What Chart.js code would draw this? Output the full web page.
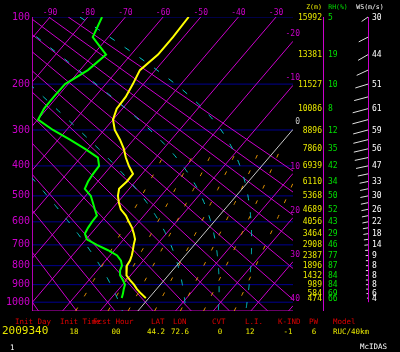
<!DOCTYPE html>
<html>
<head>
<meta charset="utf-8">
<script src="https://cdn.jsdelivr.net/npm/chart.js@4.4.0/dist/chart.umd.min.js"></script>
<style>
  html, body { margin: 0; padding: 0; background: #000; }
  #wrap { width: 400px; height: 352px; }
</style>
</head>
<body>
<div id="wrap"><canvas id="skewT" width="400" height="352"></canvas></div>
<script>
// Skew-T : axe y en p^0.286, axe x en température "penchée".
const K = 0.286;
const SKEW = 18.6;
const Y100 = Math.pow(100, K);
const P_BAS = 1053;
const X_MIN = -94.8, X_MAX = -25.5;
const Y_MAX = Math.pow(P_BAS, K);

//? Profil
const presProfil = [100,125,150,175,200,225,250,275,300,325,350,375,400,425,450,475,500,525,550,575,600,625,650,675,700,725,750,775,800,825,850,875,900,925,950,976];
const tempProfil = [-53.2,-52.8,-52.8,-54.1,-52.8,-51.8,-51.5,-50.0,-47.2,-43.6,-40.5,-38.0,-35.3,-32.4,-32.3,-32.7,-31.4,-29.6,-27.6,-24.8,-22.6,-20.4,-18.6,-17.0,-16.1,-15.1,-14.2,-13.5,-13.2,-12.3,-11.0,-9.1,-7.0,-5.2,-3.1,-0.8];
const rosProfil = [-76.2,-74.1,-66.6,-67.9,-70.8,-70.9,-70.8,-69.9,-63.6,-56.9,-50.8,-45.4,-43.2,-43.0,-42.6,-41.8,-38.6,-36.5,-34.5,-32.5,-32.4,-32.1,-31.6,-29.8,-25.9,-21.7,-18.1,-15.9,-14.5,-13.9,-12.8,-11.0,-9.4,-8.7,-7.9,-7.2];

//? Tableau de droite
const niveaux = [100,150,200,250,300,350,400,450,500,550,600,650,700,750,800,850,900,950,976];
const hauteurs = [15992,13381,11527,10086,8896,7860,6939,6110,5368,4689,4056,3464,2908,2387,1896,1432,989,584,474];
const humidites = [5,19,10,8,12,35,42,34,50,52,43,29,46,77,87,84,84,69,66];
const vitesses = [30,44,51,61,59,56,47,33,30,26,22,18,14,9,8,8,8,6,4];

//? Vent (bâtonnets tous les 25 hPa)
const presVent = [100,125,150,175,200,225,250,275,300,325,350,375,400,425,450,475,500,525,550,575,600,625,650,675,700,725,750,775,800,825,850,875,900,925,950,976];
const vitVent = [30,40,44,48,51,55,61,62,59,58,56,52,47,40,33,31,30,28,26,24,22,20,18,16,14,11,9,8,8,8,8,8,8,7,6,4];
const dirVent = [235,243,240,245,253,255,255,255,255,256,257,258,258,258,258,258,258,258,258,258,258,260,260,262,264,266,268,270,270,270,270,270,270,270,270,270];

//? Lignes de fond
const isothermes = [-90,-80,-70,-60,-50,-40,-30,-20,-10,10,20,30,40];
const adiabSeches = [-30,-20,-10,0,10,20,30,40,50,60,70,80,90];
const adiabHumides = [-7,10.5,19.5,27];
const rapportsMelange = [1,2,3,5,8,12,20];
const isobares = [100,200,300,400,500,600,700,800,900,1000];
const tempTicks = [-90,-80,-70,-60,-50,-40,-30];
const isoLabels = [-20,-10,0,10,20,30,40];

const MAGENTA = "#cc00cc";

const py = (p) => Math.pow(p, K);
const skewX = (t, p) => t - SKEW * (py(p) - Y100);
const pt = (t, p) => ({ x: skewX(t, p), y: py(p) });

// segment coupé au cadre du diagramme (Liang-Barsky, en unités des axes)
const coupe = (a, b) => {
  const dx = b.x - a.x, dy = b.y - a.y;
  let t0 = 0, t1 = 1;
  const pq = [[-dx, a.x - X_MIN], [dx, X_MAX - a.x], [-dy, a.y - Y100], [dy, Y_MAX - a.y]];
  for (const [p, q] of pq) {
    if (p === 0) { if (q < 0) return null; continue; }
    const r = q / p;
    if (p < 0) { if (r > t1) return null; if (r > t0) t0 = r; }
    else { if (r < t0) return null; if (r < t1) t1 = r; }
  }
  return [{ x: a.x + t0 * dx, y: a.y + t0 * dy }, { x: a.x + t1 * dx, y: a.y + t1 * dy }];
};

const ligne = (data, color, width, dash, order) => {
  const d = { data, borderColor: color, borderWidth: width, pointRadius: 0, showLine: true, order };
  if (dash && dash.length) d.borderDash = dash;
  return d;
};

// pseudo-adiabatique
const lapse = (p, T) => {
  const Tc = T - 273.15;
  const es = 6.112 * Math.exp((17.67 * Tc) / (Tc + 243.5));
  const rs = (0.622 * es) / (p - es);
  const Rd = 287.04, Lv = 2.501e6, Cp = 1005.7;
  return (1 / p) * (Rd * T + Lv * rs) / (Cp + (Lv * Lv * rs * 0.622) / (Rd * T * T));
};
const adiabHumide = (t0) => {
  const monte = (pDep, pFin, dp) => {
    let p = pDep, T = t0 + 273.15;
    const out = [{ p, T }];
    while ((dp < 0 && p > pFin) || (dp > 0 && p < pFin)) {
      const k1 = lapse(p, T);
      const k2 = lapse(p + dp, T + k1 * dp);
      T += 0.5 * (k1 + k2) * dp;
      p += dp;
      out.push({ p, T });
    }
    return out;
  };
  const haut = monte(1000, 100, -5).reverse();
  const bas = monte(1000, P_BAS, 5).slice(1);
  return haut.concat(bas).map((o) => pt(o.T - 273.15, o.p)).filter((q) => q.x >= X_MIN - 3 && q.x <= X_MAX + 3);
};
const rapportMelange = (w) => {
  const res = [];
  for (let p = P_BAS; p >= 350; p -= 25) {
    const e = (w * p) / (622 + w);
    const l = Math.log(e / 6.112);
    res.push(pt((243.5 * l) / (17.67 - l), p));
  }
  return res;
};

const datasets = [];

// profils
datasets.push(ligne(presProfil.map((p, i) => pt(tempProfil[i], p)), "#ffff00", 2, [], 0));
datasets.push(ligne(presProfil.map((p, i) => pt(rosProfil[i], p)), "#00ff00", 2, [], 0));

// isotherme 0
datasets.push(ligne(coupe(pt(0, P_BAS), pt(0, 100)), "#c8c8c8", 1, [], 1));

// adiabatiques humides et rapports de mélange
adiabHumides.forEach((t) => datasets.push(ligne(adiabHumide(t), "#00c8c8", 1, [6, 12], 2)));
rapportsMelange.forEach((w) => datasets.push(ligne(rapportMelange(w), "#e09000", 1, [4, 13], 2)));

// isothermes et adiabatiques sèches
isothermes.forEach((t) => {
  const s = coupe(pt(t, P_BAS), pt(t, 100));
  if (s) datasets.push(ligne(s, MAGENTA, 1, [], 3));
});
adiabSeches.forEach((th) => {
  const T = (p) => (th + 273.15) * Math.pow(p / 1000, K) - 273.15;
  const s = coupe(pt(T(P_BAS), P_BAS), pt(T(100), 100));
  if (s) datasets.push(ligne(s, MAGENTA, 1, [], 3));
});

// isobares
isobares.forEach((p) => datasets.push(ligne([{ x: X_MIN, y: py(p) }, { x: X_MAX, y: py(p) }], "#000090", 1, [], 4)));

// cadre
datasets.push(ligne([{ x: X_MIN, y: Y100 }, { x: X_MIN, y: Y_MAX }, { x: X_MAX, y: Y_MAX }], MAGENTA, 1, [], 3));

//? Textes, colonnes de droite et vent
const texteSkewT = {
  id: "texteSkewT",
  beforeDraw(chart) {
    const ctx = chart.ctx;
    ctx.save();
    ctx.fillStyle = "#000";
    ctx.fillRect(0, 0, chart.width, chart.height);
    ctx.restore();
  },
  afterDraw(chart) {
    const ctx = chart.ctx;
    const xs = chart.scales.x, ys = chart.scales.y;
    const F = '"DejaVu Sans Mono", monospace';
    const yp = (p) => ys.getPixelForValue(py(p));
    ctx.save();

    // séparateurs verticaux
    ctx.strokeStyle = MAGENTA;
    ctx.lineWidth = 1;
    ctx.beginPath();
    ctx.moveTo(323.5, yp(100));
    ctx.lineTo(323.5, yp(P_BAS));
    ctx.moveTo(368.5, yp(100));
    ctx.lineTo(368.5, yp(1000));
    ctx.stroke();

    // bâtonnets de vent
    ctx.strokeStyle = "#e0e0e0";
    ctx.beginPath();
    presVent.forEach((p, i) => {
      const L = vitVent[i] * 0.26;
      const d = (dirVent[i] * Math.PI) / 180;
      const y = yp(p);
      ctx.moveTo(368, y);
      ctx.lineTo(368 + L * Math.sin(d), y - L * Math.cos(d));
    });
    ctx.stroke();

    ctx.textBaseline = "middle";
    ctx.fillStyle = MAGENTA;
    ctx.font = "8px " + F;
    ctx.textAlign = "center";
    tempTicks.forEach((t) => ctx.fillText(String(t), xs.getPixelForValue(t), 12.5));

    ctx.font = "10px " + F;
    ctx.textAlign = "right";
    isobares.forEach((p) => ctx.fillText(String(p), 30, yp(p)));

    ctx.font = "8px " + F;
    isoLabels.forEach((t) => {
      ctx.fillStyle = t === 0 ? "#c8c8c8" : MAGENTA;
      const y = ys.getPixelForValue(Y100 + (t - X_MAX) / SKEW) - 7;
      ctx.fillText(String(t), 300, y);
    });

    ctx.font = "6.5px " + F;
    ctx.textAlign = "center";
    ctx.fillStyle = "#e8e800";
    ctx.fillText("Z(m)", 314, 7);
    ctx.fillStyle = "#00e000";
    ctx.fillText("RH(%)", 338, 7);
    ctx.fillStyle = "#ffffff";
    ctx.fillText("WS(m/s)", 370, 7);

    ctx.font = "8px " + F;
    niveaux.forEach((p, i) => {
      const y = yp(p) + 0.5;
      ctx.textAlign = "right";
      ctx.fillStyle = "#e8e800";
      ctx.fillText(String(hauteurs[i]), 322, y);
      ctx.textAlign = "left";
      ctx.fillStyle = "#00e000";
      ctx.fillText(String(humidites[i]), 328, y);
      ctx.fillStyle = "#ffffff";
      ctx.fillText(String(vitesses[i]), 372, y);
    });

    // bas de page
    ctx.font = "7.5px " + F;
    ctx.fillStyle = "#e00000";
    ctx.textAlign = "left";
    [["Init Day", 15], ["Init Time", 60], ["Fcst Hour", 93], ["LAT", 151], ["LON", 173],
     ["CVT", 212], ["L.I.", 245], ["K-IND", 278], ["PW", 309], ["Model", 333]]
      .forEach(([s, x]) => ctx.fillText(s, x, 322.5));

    ctx.fillStyle = "#e8e800";
    ctx.font = "11px " + F;
    ctx.fillText("2009340", 2, 331);
    ctx.font = "7.5px " + F;
    ctx.textAlign = "center";
    [["18", 74], ["00", 116], ["44.2", 156], ["72.6", 180], ["0", 220], ["12", 250], ["-1", 288], ["6", 314]]
      .forEach(([s, x]) => ctx.fillText(s, x, 332));
    ctx.textAlign = "left";
    ctx.fillText("RUC/40km", 333, 332);

    ctx.fillStyle = "#ffffff";
    ctx.fillText("1", 10, 348);
    ctx.fillText("McIDAS", 360, 347);
    ctx.restore();
  },
};

new Chart(document.getElementById("skewT").getContext("2d"), {
  type: "scatter",
  data: { datasets },
  options: {
    responsive: false,
    animation: false,
    devicePixelRatio: 1,
    layout: { padding: { left: 32, top: 17, right: 107, bottom: 41 } },
    plugins: { legend: { display: false }, tooltip: { enabled: false } },
    scales: {
      x: { type: "linear", min: X_MIN, max: X_MAX, display: false },
      y: { type: "linear", min: Y100, max: Y_MAX, reverse: true, display: false },
    },
  },
  plugins: [texteSkewT],
});
</script>
</body>
</html>
